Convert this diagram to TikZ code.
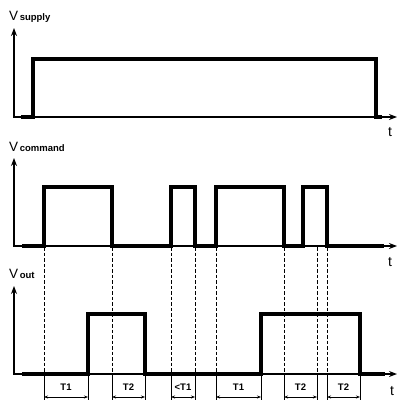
\documentclass[tikz,border=0pt]{standalone}
\usepackage{fontspec}
\setmainfont{Liberation Sans}
\usetikzlibrary{arrows.meta}
\begin{document}
\begin{tikzpicture}[x=1pt,y=-1pt,
  axis/.style={line width=1.5pt,{Stealth[length=8pt,width=6pt]}-{Stealth[length=8pt,width=6pt]}},
  sig/.style={line width=3.2pt,line join=miter},
  guide/.style={line width=0.9pt,dash pattern=on 3.5pt off 2pt},
  ext/.style={line width=0.7pt},
  meas/.style={line width=0.7pt,{Stealth[length=4pt,width=3pt]}-{Stealth[length=4pt,width=3pt]}},
  mlab/.style={font=\bfseries\fontsize{9.5}{10}\selectfont,inner sep=0pt},
  tlab/.style={font=\fontsize{14}{15}\selectfont,inner sep=0pt},
  vlab/.style={anchor=base west,inner sep=0pt},
]
\newcommand{\Vbig}{\fontsize{13.5}{14}\selectfont V}
\newcommand{\Vsub}[1]{{\bfseries\fontsize{9.5}{10}\selectfont\,#1}}
\useasboundingbox (0,0) rectangle (398,401);
% guides
\foreach \x in {44,112,171,195,216,284,317,327}
  \draw[guide] (\x,247) -- (\x,374);
\foreach \x in {44,88,112,145,171,195,216,261,284,317,327,360}
  \draw[ext] (\x,374) -- (\x,400);
% measurement arrows
\foreach \a/\b/\t [count=\i] in {44/88/T1,112/145/T2,171/195/{<T1},216/261/T1,284/317/T2,327/360/T2}{
  \coordinate (ma\i) at (\a,397);
  \coordinate (mb\i) at (\b,397);
  \draw[meas] (ma\i) -- (mb\i);
  \node[mlab] (ml\i) at ({(\a+\b)/2},387) {\t};
}
% axes
\coordinate (ya1) at (14,28);  \coordinate (o1) at (14,117); \coordinate (xa1) at (397,117);
\coordinate (ya2) at (14,158); \coordinate (o2) at (14,246); \coordinate (xa2) at (397,246);
\coordinate (ya3) at (14,286); \coordinate (o3) at (14,374); \coordinate (xa3) at (397,374);
\draw[axis] (ya1) -- (o1) -- (xa1);
\draw[axis] (ya2) -- (o2) -- (xa2);
\draw[axis] (ya3) -- (o3) -- (xa3);
% signals
\draw[sig] (21,117) -- (33,117) -- (33,59) -- (376,59) -- (376,117) -- (382,117);
\draw[sig] (22,246) -- (44,246) -- (44,187) -- (112,187) -- (112,246) -- (171,246)
  -- (171,187) -- (195,187) -- (195,246) -- (216,246) -- (216,187) -- (284,187)
  -- (284,246) -- (303,246) -- (303,187) -- (327,187) -- (327,246) -- (384,246);
\draw[sig] (22,374) -- (88,374) -- (88,314) -- (145,314) -- (145,374) -- (261,374)
  -- (261,314) -- (360,314) -- (360,374) -- (385,374);
% labels
\node[vlab] (lsupply) at (9,21) {\Vbig\Vsub{supply}};
\node[vlab] (lcommand) at (9,151) {\Vbig\Vsub{command}};
\node[vlab] (lout) at (9,278) {\Vbig\Vsub{out}};
\node[tlab] (t1) at (390,132) {t};
\node[tlab] (t2) at (390,262) {t};
\node[tlab] (t3) at (392,391) {t};
\end{tikzpicture}
\end{document}
